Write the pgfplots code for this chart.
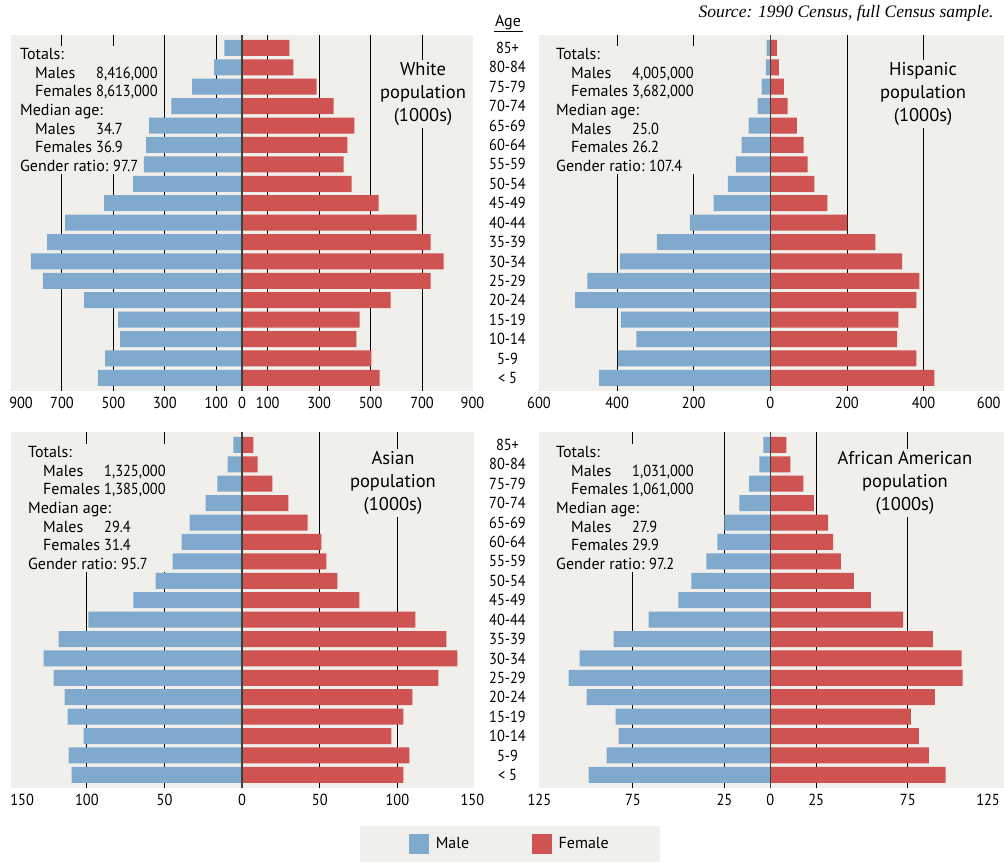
\documentclass[border=0pt]{standalone}
\usepackage{fontspec}
\setmainfont{PT Sans}
\newfontfamily\numfont{PT Sans}[FakeStretch=0.9]
\newfontfamily\srcfont{Liberation Serif}
\usepackage{pgfplots}
\usepackage{pgfplotstable}
\pgfplotsset{compat=1.18}

\definecolor{panelbg}{HTML}{F0EFEB}
\definecolor{maleblue}{HTML}{7FAACE}
\definecolor{femalered}{HTML}{CF5350}

\newcommand{\tickfont}{\fontsize{16}{18}\numfont}
\newcommand{\blockfont}{\fontsize{16}{18.7}\selectfont}
\newcommand{\titlefont}{\fontsize{18.5}{23.3}\selectfont}
\newcommand{\n}[1]{{\numfont #1}}

% i = age group (0 = under 5 ... 17 = 85+), m = males, f = females (1000s)
\pgfplotstableread{
i  m    f
17 69   184
16 108  200
15 194  290
14 275  356
13 361  437
12 373  410
11 381  395
10 423  426
9  536  531
8  688  679
7  758  733
6  821  784
5  774  733
4  614  578
3  482  457
2  474  445
1  532  503
0  560  535
}\white

\pgfplotstableread{
i  m    f
17 10   17
16 12   22
15 23   35
14 33   45
13 57   69
12 75   87
11 90   97
10 111  115
9  148  149
8  210  201
7  296  274
6  393  344
5  478  389
4  510  381
3  390  334
2  350  331
1  398  381
0  447  428
}\hispanic

\pgfplotstableread{
i  m     f
17 5.6   7.3
16 9.4   9.9
15 15.9  19.5
14 23.6  29.8
13 33.9  42.1
12 39.0  51.1
11 44.8  54.3
10 55.8  61.4
9  70.0  75.5
8  99.1  111.6
7  118.2 131.5
6  127.9 138.6
5  121.5 126.4
4  114.4 109.7
3  112.4 103.9
2  102.1 96.1
1  111.8 107.7
0  109.9 103.9
}\asian

\pgfplotstableread{
i  m     f
17 3.8   8.7
16 6.0   10.9
15 11.5  18.0
14 16.9  23.8
13 25.1  31.5
12 28.9  34.2
11 34.9  38.5
10 43.1  45.6
9  50.2  54.9
8  66.4  72.4
7  85.5  88.7
6  104.0 104.4
5  110.0 104.9
4  100.2 89.8
3  84.4  76.7
2  82.7  81.1
1  89.3  86.5
0  99.1  95.6
}\afam

\tikzset{
  block/.style={fill=panelbg, anchor=north west, align=left, font=\blockfont, inner sep=2pt},
  ttl/.style={fill=panelbg, align=center, font=\titlefont, inner sep=2pt},
}

\pgfplotsset{
  pyr/.style={
    scale only axis,
    anchor=south west,
    height=356pt,
    ymin=-0.66, ymax=17.68,
    axis background/.style={fill=panelbg},
    axis line style={draw=none},
    major tick length=0pt,
    tick style={draw=none},
    xticklabel style={font=\tickfont, yshift=-3pt},
    yticklabel style={font=\tickfont},
    ytick=\empty,
    extra x tick style={grid=major, major grid style={black, line width=0.9pt}},
    extra x tick labels={},
  },
  ages/.style={
    ytick={0,...,17},
    yticklabels={{< 5},5-9,10-14,15-19,20-24,25-29,30-34,35-39,40-44,45-49,50-54,55-59,60-64,65-69,70-74,75-79,80-84,85+},
    yticklabel style={anchor=center, xshift=-31.5pt},
  },
  malebar/.style={xbar, bar width=16pt, bar shift=0pt, fill=maleblue, draw=none},
  femalebar/.style={xbar, bar width=16pt, bar shift=0pt, fill=femalered, draw=none},
}

\begin{document}
\begin{tikzpicture}
\path[use as bounding box] (0,0) rectangle (1004pt,863pt);

% White
\begin{axis}[pyr, at={(10.5pt,472.3pt)}, width=463pt,
    xmin=-900, xmax=900,
    xtick={-859,-700,-500,-300,-100,0,100,300,500,700,896},
    xticklabels={900,700,500,300,100,0,100,300,500,700,900},
    extra x ticks={-700,-500,-300,-100,100,300,500,700}]
\node[block] at (rel axis cs:0.0162,0.968) {Totals:\\
  \hspace*{15pt}\makebox[61pt][l]{Males}\n{8,416,000}\\
  \hspace*{15pt}\makebox[61pt][l]{Females}\n{8,613,000}\\
  Median age:\\
  \hspace*{15pt}\makebox[61pt][l]{Males}\n{34.7}\\
  \hspace*{15pt}\makebox[61pt][l]{Females}\n{36.9}\\
  \makebox[93pt][l]{Gender ratio:}\n{97.7}};
\node[ttl] at (rel axis cs:0.891,0.833) {White\\population\\(1000s)};
\addplot[malebar] table[x expr=-\thisrow{m}, y=i] {\white};
\addplot[femalebar] table[x=f, y=i] {\white};
\draw[black!75, line width=1.4pt] (axis cs:0,-0.66) -- (axis cs:0,17.68);
\end{axis}

% Hispanic
\begin{axis}[pyr, ages, at={(539pt,472.3pt)}, width=465pt,
    xmin=-604, xmax=610,
    xtick={-604,-400,-200,0,200,400,570},
    xticklabels={600,400,200,0,200,400,600},
    extra x ticks={-400,-200,200,400}]
\node[block] at (rel axis cs:0.0323,0.968) {Totals:\\
  \hspace*{15pt}\makebox[61pt][l]{Males}\n{4,005,000}\\
  \hspace*{15pt}\makebox[61pt][l]{Females}\n{3,682,000}\\
  Median age:\\
  \hspace*{15pt}\makebox[61pt][l]{Males}\n{25.0}\\
  \hspace*{15pt}\makebox[61pt][l]{Females}\n{26.2}\\
  \makebox[93pt][l]{Gender ratio:}\n{107.4}};
\node[ttl] at (rel axis cs:0.826,0.833) {Hispanic\\population\\(1000s)};
\addplot[malebar] table[x expr=-\thisrow{m}, y=i] {\hispanic};
\addplot[femalebar] table[x=f, y=i] {\hispanic};
\draw[black!75, line width=1.4pt] (axis cs:0,-0.66) -- (axis cs:0,17.68);
\end{axis}

% Asian
\begin{axis}[pyr, at={(10.5pt,75.3pt)}, width=463pt,
    xmin=-149.2, xmax=149,
    xtick={-141.7,-100,-50,0,50,100,148.3},
    xticklabels={150,100,50,0,50,100,150},
    extra x ticks={-100,-50,50,100},
    legend style={at={(1.079,-0.158)}, anchor=center, fill=panelbg, draw=none,
      inner xsep=49pt, inner ysep=8pt, legend columns=2,
      font=\blockfont,
      /tikz/every odd column/.append style={column sep=5pt},
      /tikz/every even column/.append style={column sep=61pt}}]
\node[block] at (rel axis cs:0.0335,0.9655) {Totals:\\
  \hspace*{15pt}\makebox[61pt][l]{Males}\n{1,325,000}\\
  \hspace*{15pt}\makebox[61pt][l]{Females}\n{1,385,000}\\
  Median age:\\
  \hspace*{15pt}\makebox[61pt][l]{Males}\n{29.4}\\
  \hspace*{15pt}\makebox[61pt][l]{Females}\n{31.4}\\
  \makebox[93pt][l]{Gender ratio:}\n{95.7}};
\node[ttl] at (rel axis cs:0.826,0.856) {Asian\\population\\(1000s)};
\addplot[malebar, forget plot] table[x expr=-\thisrow{m}, y=i] {\asian};
\addplot[femalebar, forget plot] table[x=f, y=i] {\asian};
\draw[black!75, line width=1.4pt] (axis cs:0,-0.66) -- (axis cs:0,17.68);
\addlegendimage{legend image code/.code={\fill[maleblue] (0pt,-9.5pt) rectangle (19pt,9.5pt);}}
\addlegendentry{Male}
\addlegendimage{legend image code/.code={\fill[femalered] (0pt,-9.5pt) rectangle (19pt,9.5pt);}}
\addlegendentry{Female}
\end{axis}

% African American
\begin{axis}[pyr, ages, at={(539pt,75.3pt)}, width=465pt,
    xmin=-126.2, xmax=127.5,
    xtick={-126,-75,-25,0,25,75,118.8},
    xticklabels={125,75,25,0,25,75,125},
    extra x ticks={-75,-25,25,75}]
\node[block] at (rel axis cs:0.0323,0.9655) {Totals:\\
  \hspace*{15pt}\makebox[61pt][l]{Males}\n{1,031,000}\\
  \hspace*{15pt}\makebox[61pt][l]{Females}\n{1,061,000}\\
  Median age:\\
  \hspace*{15pt}\makebox[61pt][l]{Males}\n{27.9}\\
  \hspace*{15pt}\makebox[61pt][l]{Females}\n{29.9}\\
  \makebox[93pt][l]{Gender ratio:}\n{97.2}};
\node[ttl] at (rel axis cs:0.787,0.856) {African American\\population\\(1000s)};
\addplot[malebar] table[x expr=-\thisrow{m}, y=i] {\afam};
\addplot[femalebar] table[x=f, y=i] {\afam};
\draw[black!75, line width=1.4pt] (axis cs:0,-0.66) -- (axis cs:0,17.68);
\end{axis}

\node[anchor=base, font=\blockfont] at (508pt,836pt) {Age};
\draw[line width=1pt] (494pt,831pt) -- (523pt,831pt);
\node[anchor=base east, font={\fontsize{17.5}{20}\srcfont\itshape}] at (997pt,845pt)
  {Source: 1990 Census, full Census sample.};
\end{tikzpicture}
\end{document}
